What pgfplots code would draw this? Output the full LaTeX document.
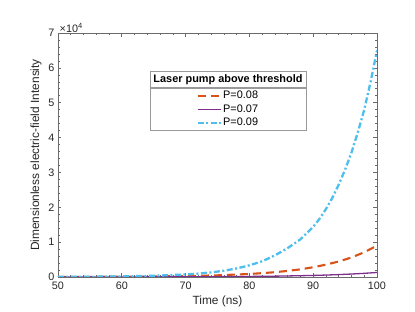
\documentclass[border=0pt]{standalone}
\usepackage{pgfplots}
\usepackage{pgfplotstable}
\pgfplotsset{compat=1.18}
\usepackage{fontspec}
\setmainfont{Liberation Sans}
\definecolor{mgray}{rgb}{0.15,0.15,0.15}
\definecolor{agray}{rgb}{0.42,0.42,0.42}
\definecolor{lgray}{rgb}{0.6,0.6,0.6}
\definecolor{morange}{rgb}{0.85,0.325,0.098}
\definecolor{mpurple}{rgb}{0.494,0.184,0.556}
\definecolor{mblue}{rgb}{0.301,0.745,0.933}

\pgfplotstableread{
t v
50 25
55 45
60 85
65 150
70 270
75 480
80 870
82 1100
84 1380
86 1750
88 2200
90 2800
92 3550
94 4450
96 5600
98 7100
100 9000
}\orangedata

\pgfplotstableread{
t v
50 7
60 20
70 55
75 95
80 160
85 265
90 450
92 560
94 690
96 850
98 1050
100 1300
}\purpledata

\pgfplotstableread{
t v
50 40
55 80
60 160
65 350
70 730
72 980
74 1320
76 1800
78 2450
80 3350
82 4500
84 6200
86 8300
88 10800
90 14400
91 16700
92 19500
93 22700
94 26500
95 30800
96 35700
97 41500
98 48000
99 56000
100 65000
}\bluedata

\begin{document}
\begin{tikzpicture}
\path (-58bp,-35bp) rectangle (357bp,277bp);
\begin{axis}[
  at={(0,0)}, anchor=south west,
  scale only axis, width=319bp, height=244bp,
  xmin=50, xmax=100, ymin=0, ymax=70000,
  xtick={50,60,...,100}, ytick={0,10000,...,70000},
  minor x tick num=4, minor y tick num=4,
  tick align=inside,
  major tick length=3.5bp, minor tick length=2bp,
  axis line style={agray, line width=0.6bp},
  every tick/.style={agray, line width=0.6bp},
  ticklabel style={font=\fontsize{10.8bp}{12bp}\selectfont, text=mgray},
  xticklabel style={yshift=-1bp},
  /pgf/number format/assume math mode=true,
  scaled y ticks=base 10:-4,
  ytick scale label code/.code={×10\textsuperscript{#1}},
  every y tick scale label/.style={at={(rel axis cs:0,1)}, anchor=south west, inner sep=0.5bp, xshift=1bp, font=\fontsize{10.8bp}{12bp}\selectfont, text=mgray},
  xlabel={Time (ns)}, ylabel={Dimensionless electric-field Intensity},
  label style={font=\fontsize{11.9bp}{13bp}\selectfont, text=mgray},
  legend image code/.code={\draw[#1] plot coordinates {(0bp,0bp) (11.5bp,0bp) (23bp,0bp)};},
  legend style={at={(rel axis cs:0.5329,0.775)}, anchor=north, draw=lgray, line width=0.5bp,
    font=\fontsize{10.9bp}{12bp}\selectfont, text=black,
    inner xsep=46.5bp, inner ysep=0.6bp, row sep=0bp,
    nodes={inner xsep=1.5bp, inner ysep=1.6bp, text height=8bp, text depth=2.5bp},
    cells={anchor=west}},
  legend cell align=left,
]
\addplot[morange, line width=2.1bp, dash pattern=on 8bp off 5bp] table[x=t,y=v] {\orangedata};
\addlegendentry{P=0.08}
\addplot[mpurple, line width=1.3bp] table[x=t,y=v] {\purpledata};
\addlegendentry{P=0.07}
\addplot[mblue, line width=2.3bp, dash pattern=on 6bp off 2.5bp on 2bp off 2.5bp] table[x=t,y=v] {\bluedata};
\addlegendentry{P=0.09}
\node[draw=lgray, line width=0.5bp, minimum width=156bp, minimum height=16bp, anchor=south, inner sep=1bp,
  font=\bfseries\fontsize{10.9bp}{12bp}\selectfont] at (rel axis cs:0.5329,0.775) {Laser pump above threshold};
\end{axis}
\end{tikzpicture}
\end{document}
